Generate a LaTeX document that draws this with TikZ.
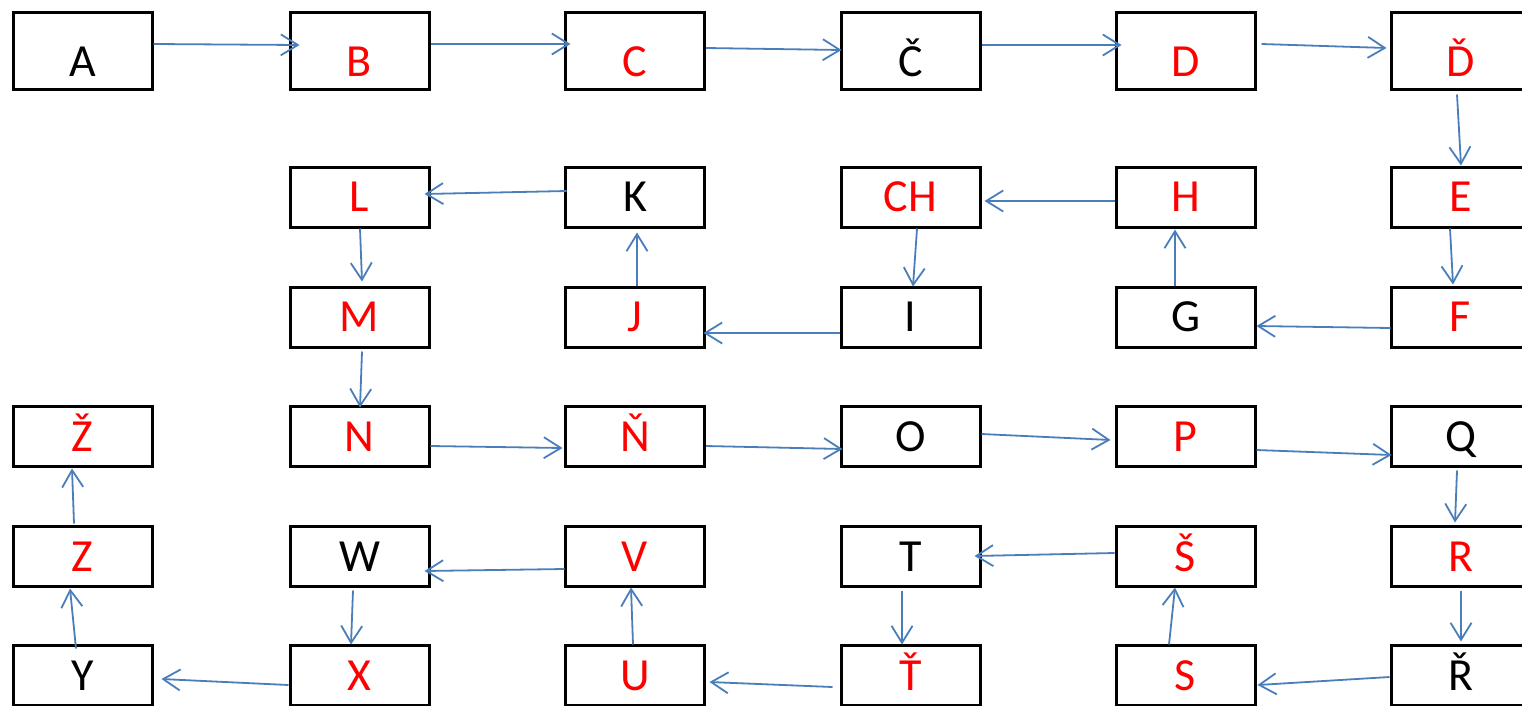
\documentclass[tikz,border=0pt]{standalone}
\usepackage{fontspec}
\setmainfont{Carlito}
\usetikzlibrary{arrows.meta,calc}
\definecolor{arrblue}{RGB}{74,126,187}
\tikzset{
  box/.style={draw=black, line width=3pt, minimum width=139pt, minimum height=60pt,
    inner sep=0pt, text height=29pt, text depth=0pt, font=\fontsize{46}{46}\selectfont},
  boxtop/.style={box, minimum height=77pt, text height=51pt},
  redtxt/.style={text=red},
  arr/.style={draw=arrblue, line width=1.8pt, -{Straight Barb[length=17pt,width=21pt]}},
}
\begin{document}
\begin{tikzpicture}[x=1pt,y=-1pt]
\useasboundingbox (0,0) rectangle (1522,705);
% row 1
\node[boxtop] (A) at (82.5,50.5) {A};
\node[boxtop,redtxt] (B) at (359.5,50.5) {B};
\node[boxtop,redtxt] (C) at (635,50.5) {C};
\node[boxtop] (Cc) at (910.5,50.5) {Č};
\node[boxtop,redtxt] (D) at (1185.5,50.5) {D};
\node[boxtop,redtxt] (Dd) at (1460.5,50.5) {Ď};
% row 2
\node[box,redtxt] (L) at (359.5,197) {L};
\node[box] (K) at (635,197) {K};
\node[box,redtxt] (CH) at (910.5,197) {CH};
\node[box,redtxt] (H) at (1185.5,197) {H};
\node[box,redtxt] (E) at (1460.5,197) {E};
% row 3
\node[box,redtxt] (M) at (359.5,317) {M};
\node[box,redtxt] (J) at (635,317) {J};
\node[box] (I) at (910.5,317) {I};
\node[box] (G) at (1185.5,317) {G};
\node[box,redtxt] (F) at (1460.5,317) {F};
% row 4
\node[box,redtxt] (Zz) at (82.5,436.5) {Ž};
\node[box,redtxt] (N) at (359.5,436.5) {N};
\node[box,redtxt] (Nn) at (635,436.5) {Ň};
\node[box] (O) at (910.5,436.5) {O};
\node[box,redtxt] (P) at (1185.5,436.5) {P};
\node[box] (Q) at (1460.5,436.5) {Q};
% row 5
\node[box,redtxt] (Z) at (82.5,556.5) {Z};
\node[box] (W) at (359.5,556.5) {W};
\node[box,redtxt] (V) at (635,556.5) {V};
\node[box] (T) at (910.5,556.5) {T};
\node[box,redtxt] (Ss) at (1185.5,556.5) {Š};
\node[box,redtxt] (R) at (1460.5,556.5) {R};
% row 6
\node[box] (Y) at (82.5,675.5) {Y};
\node[box,redtxt] (X) at (359.5,675.5) {X};
\node[box,redtxt] (U) at (635,675.5) {U};
\node[box,redtxt] (Tt) at (910.5,675.5) {Ť};
\node[box,redtxt] (S) at (1185.5,675.5) {S};
\node[box] (Rr) at (1460.5,675.5) {Ř};
% connectors
\draw[arr] ($(A.east)+(0,-6.5)$) -- ($(B.west)+(11,-5.5)$);
\draw[arr] ($(B.east)+(0,-6.5)$) -- ($(C.west)+(6.5,-6.5)$);
\draw[arr] ($(C.east)+(0,-2.5)$) -- ($(Cc.west)+(2,-0.5)$);
\draw[arr] ($(Cc.east)+(0,-5.5)$) -- ($(D.west)+(7,-5.5)$);
\draw[arr] ($(D.east)+(5,-6.5)$) -- ($(Dd.west)+(-3,-2.5)$);
\draw[arr] ($(Dd.south)+(-3.5,4)$) -- ($(E.north)+(0.5,0)$);
\draw[arr] ($(E.south)+(-10.5,0)$) -- ($(F.north)+(-7.5,-1)$);
\draw[arr] ($(F.west)+(1,11)$) -- ($(G.east)+(0,9)$);
\draw[arr] ($(G.north)+(-10.5,0)$) -- ($(H.south)+(-10.5,1)$);
\draw[arr] ($(H.west)+(0,4)$) -- ($(CH.east)+(3,4)$);
\draw[arr] ($(CH.south)+(6.5,0)$) -- ($(I.north)+(2.5,1)$);
\draw[arr] ($(I.west)+(0,16)$) -- ($(J.east)+(-2.5,16)$);
\draw[arr] ($(J.north)+(2,0)$) -- ($(K.south)+(2,4)$);
\draw[arr] ($(K.west)+(2.5,-6)$) -- ($(L.east)+(-6,-3)$);
\draw[arr] ($(L.south)+(0.5,0)$) -- ($(M.north)+(2.5,-4)$);
\draw[arr] ($(M.south)+(2.5,3)$) -- ($(N.north)+(0.5,2.5)$);
\draw[arr] ($(N.east)+(0,9.5)$) -- ($(Nn.west)+(-1.5,11.5)$);
\draw[arr] ($(Nn.east)+(0,9.5)$) -- ($(O.west)+(3,12.5)$);
\draw[arr] ($(O.east)+(0,-2.5)$) -- ($(P.west)+(-4,3.5)$);
\draw[arr] ($(P.east)+(0,13.5)$) -- ($(Q.west)+(2,18.5)$);
\draw[arr] ($(Q.south)+(-3.5,2.5)$) -- ($(R.north)+(-5.5,-2.5)$);
\draw[arr] ($(R.south)+(0.5,2.5)$) -- ($(Rr.north)+(0.5,-2.5)$);
\draw[arr] ($(Rr.west)+(0,1.5)$) -- ($(S.east)+(1,9.5)$);
\draw[arr] ($(S.north)+(-16.5,0.5)$) -- ($(Ss.south)+(-10.5,-0.5)$);
\draw[arr] ($(Ss.west)+(0,-3.5)$) -- ($(T.east)+(-7,-0.5)$);
\draw[arr] ($(T.south)+(-8.5,2.5)$) -- ($(Tt.north)+(-8.5,0.5)$);
\draw[arr] ($(Tt.west)+(-7,11.5)$) -- ($(U.east)+(3.5,6.5)$);
\draw[arr] ($(U.north)+(-2,0.5)$) -- ($(V.south)+(-4,-0.5)$);
\draw[arr] ($(V.west)+(0.5,12.5)$) -- ($(W.east)+(-6,14.5)$);
\draw[arr] ($(W.south)+(-6.5,2.5)$) -- ($(X.north)+(-8.5,0.5)$);
\draw[arr] ($(X.west)+(0,9.5)$) -- ($(Y.east)+(8,3.5)$);
\draw[arr] ($(Y.north)+(-6.5,4.5)$) -- ($(Z.south)+(-12.5,0.5)$);
\draw[arr] ($(Z.north)+(-8.5,-1.5)$) -- ($(Zz.south)+(-10.5,0.5)$);
\end{tikzpicture}
\end{document}
